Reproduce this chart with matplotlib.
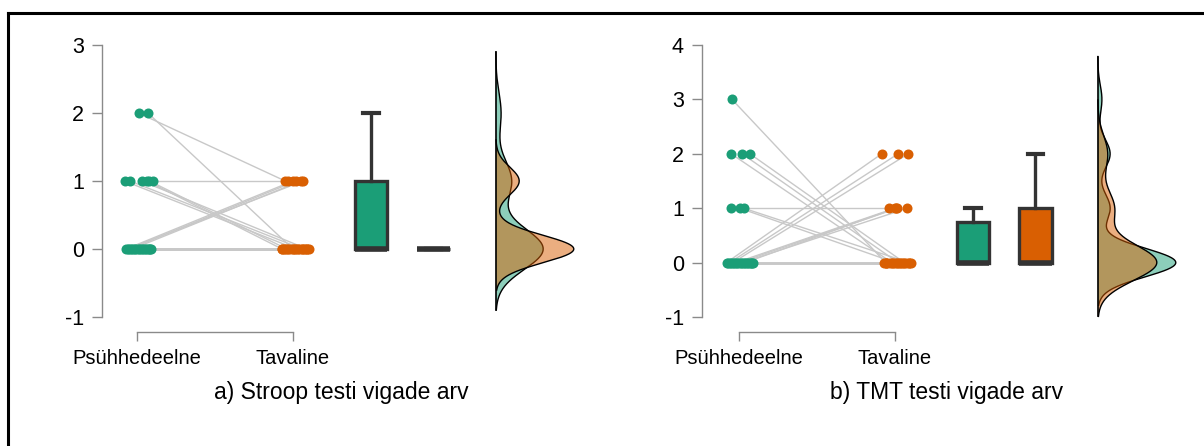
import numpy as np
import matplotlib
matplotlib.use("Agg")
import matplotlib.pyplot as plt
from matplotlib.lines import Line2D

plt.rcParams['font.family'] = ['Liberation Sans', 'DejaVu Sans']

groups = ['Psühhedeelne', 'Tavaline']
green, orange = '#1b9e77', '#d95f02'

# a) Stroop errors, one entry per participant (paired)
stroop_pre = [2, 2, 1, 1, 1, 1, 1, 1] + [0] * 18
stroop_post = [1, 0, 1, 0, 0, 0, 0, 0, 1, 1, 1, 1] + [0] * 14

# b) TMT errors, one entry per participant (paired)
tmt_pre = [3, 2, 2, 2, 1, 1, 1] + [0] * 19
tmt_post = [0, 0, 0, 0, 1, 0, 0, 2, 2, 2, 1, 1, 1, 1] + [0] * 12

# horizontal jitter of the dots (x units)
stroop_pre_jit = [0.01, 0.07, 0.1, -0.08, -0.045, 0.03, 0.065, 0.08,
                  -0.07, -0.05, -0.03, -0.06, -0.01, 0.01, 0.03, 0.05,
                  0.07, 0.09, -0.04, 0.0, 0.02, 0.04, 0.06, 0.08, -0.02, 0.085]
stroop_post_jit = [-0.05, 0.0, -0.03, 0.02, 0.06, 0.09, -0.07, -0.04,
                   0.0, 0.02, 0.05, 0.065, -0.06, -0.03, 0.0, 0.03,
                   0.07, 0.1, -0.05, -0.02, 0.01, 0.04, 0.08, -0.07, 0.055, 0.09]
tmt_pre_jit = [-0.045, -0.05, 0.02, 0.07, -0.05, 0.005, 0.03,
               -0.08, -0.06, -0.04, -0.02, 0.0, 0.02, 0.04, 0.06, 0.08,
               0.09, -0.07, -0.03, 0.01, 0.05, 0.07, -0.05, -0.01, 0.03, 0.085]
tmt_post_jit = [-0.06, -0.02, 0.02, 0.06, -0.04, 0.0, 0.09, -0.085, 0.02, 0.085,
                0.0, 0.015, 0.08, 0.005, -0.07, -0.05, -0.03, -0.01, 0.01, 0.03,
                0.05, 0.07, 0.09, -0.06, 0.04, 0.1]

titles = ['a) Stroop testi vigade arv', 'b) TMT testi vigade arv']
yticks_a = [-1, 0, 1, 2, 3]
yticks_b = [-1, 0, 1, 2, 3, 4]


def nrd0(x):
    x = np.asarray(x, float)
    hi = np.std(x, ddof=1)
    q1, q3 = np.percentile(x, [25, 75])
    lo = min(hi, (q3 - q1) / 1.34)
    if lo == 0:
        lo = hi
    return 0.9 * lo * len(x) ** -0.2


def kde(x):
    x = np.asarray(x, float)
    bw = nrd0(x)
    grid = np.linspace(x.min() - 3 * bw, x.max() + 3 * bw, 512)
    z = (grid[:, None] - x[None, :]) / bw
    dens = np.exp(-0.5 * z ** 2).sum(axis=1) / (len(x) * bw * np.sqrt(2 * np.pi))
    return grid, dens


def panel(ax, pre, post, jpre, jpost, yticks):
    pre = np.array(pre); post = np.array(post)
    xa = 1 + np.array(jpre)
    xb = 2 + np.array(jpost)
    for i in range(len(pre)):
        ax.plot([xa[i], xb[i]], [pre[i], post[i]], color='#c8c8c8', lw=1, zorder=1)
    ax.scatter(xa, pre, s=52, color=green, zorder=3, linewidths=0)
    ax.scatter(xb, post, s=52, color=orange, zorder=3, linewidths=0)

    bp = ax.boxplot([pre, post], positions=[2.5, 2.9], widths=0.21,
                    patch_artist=True, showfliers=False, capwidths=0.1,
                    boxprops=dict(edgecolor='#333333', linewidth=2.4),
                    medianprops=dict(color='#333333', linewidth=4, solid_capstyle='butt'),
                    whiskerprops=dict(color='#333333', linewidth=2.4),
                    capprops=dict(color='#333333', linewidth=3))
    for patch, c in zip(bp['boxes'], [green, orange]):
        patch.set_facecolor(c)

    # half-violin densities, scaled to a common maximum width
    curves = [kde(pre), kde(post)]
    top = max(d.max() for _, d in curves)
    base = 3.3
    for (g, d), c in zip(curves, [green, orange]):
        ax.fill_betweenx(g, base, base + d / top * 0.5, facecolor=c, alpha=0.5,
                         edgecolor='none', zorder=2)
        ax.plot(base + d / top * 0.5, g, color='black', lw=1, zorder=2)
    lo = min(g.min() for g, _ in curves)
    hi = max(g.max() for g, _ in curves)
    ax.plot([base, base], [lo, hi], color='black', lw=1.2, zorder=2)

    for s in ['top', 'right']:
        ax.spines[s].set_visible(False)
    for s in ['left', 'bottom']:
        ax.spines[s].set_color('#8a8a8a')
        ax.spines[s].set_linewidth(1)
    ax.spines['left'].set_bounds(yticks[0], yticks[-1])
    ax.spines['bottom'].set_bounds(1, 2)
    ax.set_yticks(yticks)
    ax.set_yticklabels([str(t) for t in yticks])
    ax.set_xticks([1, 2])
    ax.set_xticklabels(groups)
    ax.tick_params(axis='y', color='#8a8a8a', length=7, width=1, pad=6, labelsize=15.5)
    ax.tick_params(axis='x', color='#8a8a8a', length=6.5, width=1, pad=6, labelsize=14.5)


W, H = 1204, 446
fig = plt.figure(figsize=(W / 100, H / 100), dpi=100)


def add_axes(left_px, right_px, x1_px, y0_px, yticks, unit_px):
    bottom_px, top_px = 332, 40
    ax = fig.add_axes([left_px / W, 1 - bottom_px / H, (right_px - left_px) / W,
                       (bottom_px - top_px) / H])
    ax.set_xlim(1 + (left_px - x1_px) / 156, 1 + (right_px - x1_px) / 156)
    ytop = yticks[-1]
    ax.set_ylim(ytop - (bottom_px - y0_px) / unit_px, ytop - (top_px - y0_px) / unit_px)
    ax.patch.set_visible(False)
    return ax


ax1 = add_axes(102, 600, 137, 45, yticks_a, 68)
panel(ax1, stroop_pre, stroop_post, stroop_pre_jit, stroop_post_jit, yticks_a)
ax2 = add_axes(702, 1200, 739, 45, yticks_b, 54.4)
panel(ax2, tmt_pre, tmt_post, tmt_pre_jit, tmt_post_jit, yticks_b)

fig.text(341 / W, 1 - 393 / H, titles[0], ha='center', va='center', fontsize=16.5)
fig.text(947 / W, 1 - 393 / H, titles[1], ha='center', va='center', fontsize=16.5)

# frame along top and left edge
fig.add_artist(Line2D([8 / W, 1], [1 - 13 / H, 1 - 13 / H], color='black', lw=2.2,
                      transform=fig.transFigure))
fig.add_artist(Line2D([8 / W, 8 / W], [0, 1 - 13 / H], color='black', lw=2.2,
                      transform=fig.transFigure))

fig.savefig('out.png', dpi=100)
